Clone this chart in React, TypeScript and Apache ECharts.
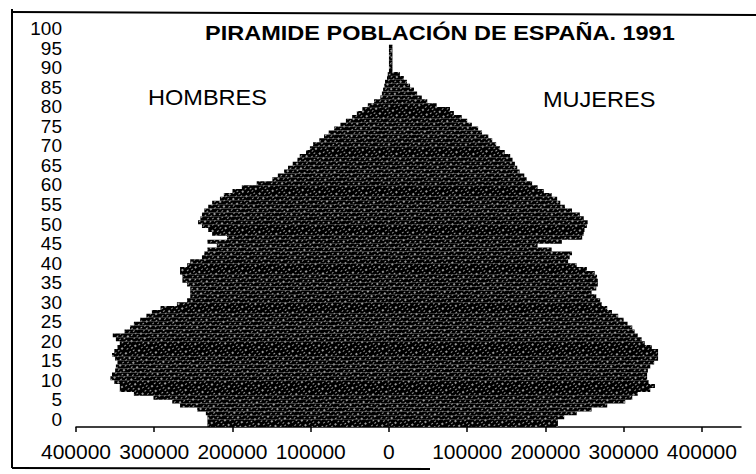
import React, { useEffect, useRef } from "react";
import * as echarts from "echarts";

const title = "PIRAMIDE POBLACIÓN DE ESPAÑA. 1991";
const leftLabel = "HOMBRES";
const rightLabel = "MUJERES";

const ages: string[] = Array.from({ length: 101 }, (_, i) => String(i));

const xTicks = [-400000, -300000, -200000, -100000, 0, 100000, 200000, 300000, 400000];

const hombres = [
  232000, 232000, 232000, 234000, 245000, 267000, 277000, 301000, 326000, 344000,
  344000, 351000, 356000, 354000, 350000, 349000, 347000, 350000, 354000, 351000,
  347000, 344000, 349000, 353000, 338000, 331000, 326000, 318000, 310000, 303000,
  292000, 271000, 258000, 254000, 254000, 254000, 258000, 264000, 264000, 267000,
  267000, 258000, 254000, 239000, 236000, 232000, 220000, 232000, 207000, 226000,
  231000, 239000, 244000, 241000, 239000, 236000, 231000, 226000, 216000, 211000,
  200000, 188000, 169000, 149000, 142000, 134000, 129000, 123000, 117000, 114000,
  106000, 101000, 97000, 89000, 83000, 77000, 70000, 62000, 55000, 47000,
  41000, 34000, 27000, 19000, 11000, 9000, 7500, 6000, 5000, 2500,
  1500, 0, 0, 0, 0, 0, 0, 0, 0, 0, 0,
];

const mujeres = [
  216000, 216000, 224000, 240000, 259000, 279000, 302000, 311000, 318000, 334000,
  340000, 332000, 330000, 330000, 331000, 334000, 339000, 344000, 344000, 344000,
  336000, 327000, 323000, 318000, 314000, 311000, 305000, 300000, 293000, 285000,
  279000, 272000, 270000, 265000, 259000, 265000, 267000, 267000, 266000, 263000,
  253000, 240000, 229000, 231000, 234000, 208000, 190000, 221000, 247000, 249000,
  250000, 253000, 254000, 249000, 244000, 234000, 225000, 219000, 215000, 208000,
  198000, 190000, 183000, 176000, 173000, 167000, 164000, 161000, 158000, 155000,
  148000, 142000, 137000, 132000, 127000, 119000, 114000, 106000, 100000, 93000,
  83000, 78000, 61000, 49000, 42000, 36000, 32000, 27000, 23000, 19000,
  14000, 4500, 4500, 4500, 4500, 4500, 4500, 4500, 0, 0, 0,
];

const FONT = "'Liberation Sans', Arial, Helvetica, sans-serif";

export default function App() {
  const ref = useRef<HTMLDivElement>(null);
  useEffect(() => {
    if (!ref.current) return;
    const chart = echarts.init(ref.current, null, { renderer: "svg" });
    const decal = {
      symbol: "rect",
      symbolSize: 0.8,
      color: "#ffffff",
      dashArrayX: [[1, 3], [2, 4], [1, 2]],
      dashArrayY: [2, 2],
      rotation: 0.9,
    };
    chart.setOption({
      animation: false,
      backgroundColor: "#ffffff",
      grid: { left: 76, right: 15, top: 33, bottom: 47, containLabel: false },
      xAxis: {
        type: "value",
        min: -400000,
        max: 450000,
        splitLine: { show: false },
        axisLine: { show: true, onZero: false, lineStyle: { color: "#000", width: 1.5 } },
        axisTick: { show: true, length: 5, customValues: xTicks, lineStyle: { color: "#000", width: 1.5 } },
        axisLabel: {
          customValues: xTicks,
          formatter: (v: number) => String(Math.abs(v)),
          color: "#000",
          fontFamily: FONT,
          fontSize: 21,
          margin: 14,
        },
      },
      yAxis: {
        type: "category",
        data: ages,
        axisLine: { show: false },
        axisTick: { show: false },
        splitLine: { show: false },
        axisLabel: {
          interval: 0,
          formatter: (v: string) => (Number(v) % 5 === 0 ? v : ""),
          color: "#000",
          fontFamily: FONT,
          fontSize: 19,
          lineHeight: 12,
          verticalAlign: "bottom",
          margin: 14,
        },
      },
      series: [
        {
          name: leftLabel,
          type: "bar",
          data: hombres.map((v) => -v),
          barCategoryGap: "0%",
          barGap: "-100%",
          itemStyle: { color: "#000", decal },
        },
        {
          name: rightLabel,
          type: "bar",
          data: mujeres,
          barCategoryGap: "0%",
          barGap: "-100%",
          itemStyle: { color: "#000", decal },
        },
      ],
      graphic: [
        { type: "line", shape: { x1: 12, y1: 9, x2: 12, y2: 468 }, style: { stroke: "#000", lineWidth: 2 } },
        { type: "line", shape: { x1: 12, y1: 12, x2: 756, y2: 15 }, style: { stroke: "#000", lineWidth: 2 } },
        { type: "line", shape: { x1: 12, y1: 468, x2: 430, y2: 469 }, style: { stroke: "#000", lineWidth: 2 } },
        {
          type: "text",
          x: 205,
          y: 33,
          scaleX: 1.12,
          style: { text: title, fill: "#000", font: `bold 21px ${FONT}`, verticalAlign: "middle", align: "left" },
        },
        {
          type: "text",
          x: 148,
          y: 97,
          scaleX: 1.07,
          style: { text: leftLabel, fill: "#000", font: `22px ${FONT}`, verticalAlign: "middle", align: "left" },
        },
        {
          type: "text",
          x: 543,
          y: 99,
          scaleX: 1.07,
          style: { text: rightLabel, fill: "#000", font: `22px ${FONT}`, verticalAlign: "middle", align: "left" },
        },
      ],
    });
    return () => chart.dispose();
  }, []);
  return <div ref={ref} style={{ width: 756, height: 474, position: "absolute", left: 0, top: 0 }} />;
}
